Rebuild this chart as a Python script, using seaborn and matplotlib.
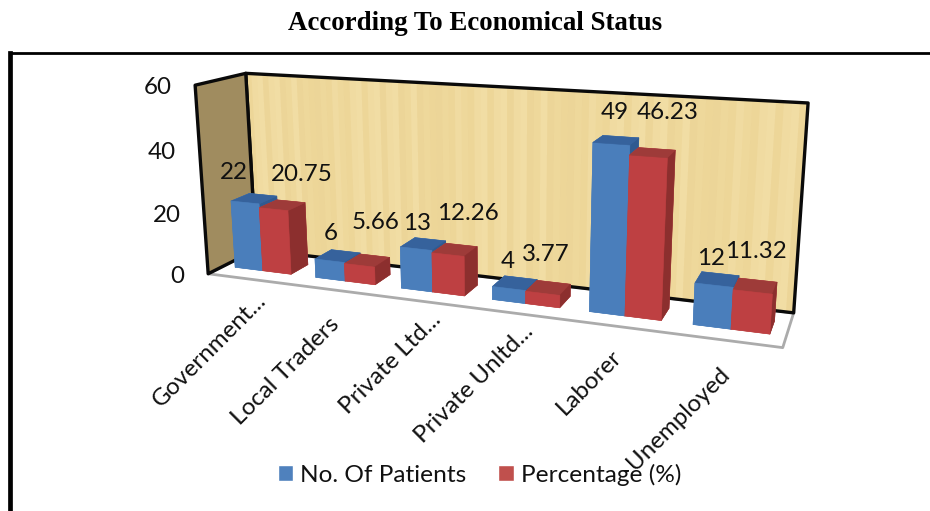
import numpy as np, matplotlib
matplotlib.use('Agg')
import matplotlib.pyplot as plt
import seaborn as sns
from matplotlib.colors import to_rgba
from matplotlib.patches import Patch
from mpl_toolkits.mplot3d import proj3d
from mpl_toolkits.mplot3d.art3d import Poly3DCollection

categories = ["Government...", "Local Traders", "Private Ltd...", "Private Unltd...", "Laborer", "Unemployed"]
patients = [22, 6, 13, 4, 49, 12]
percent = [20.75, 5.66, 12.26, 3.77, 46.23, 11.32]
z_ticks = [0, 20, 40, 60]
series_names = ["No. Of Patients", "Percentage (%)"]
title = "According To Economical Status"

# label placement, pixels away from each anchor
blue_nudge = [(-9, 31), (3, 29), (3, 26), (0, 28), (5, 32), (-2, 28)]
red_nudge = [(31, 36), (18, 44), (22, 42), (5, 40), (20, 45), (4, 42)]
cat_nudge = [(15, -18), (5, -32), (17, -16), (15, -15), (2, -28), (1, -31)]

sns.set_theme(style='white')
plt.rcParams['font.family'] = ['Lato', 'DejaVu Sans']
W, H = 930, 511
TXT = '#111111'
FS = 17.4
CLEAR = (0, 0, 0, 0)
palette = {
    'blue': ['#4A7EBB', '#36629C', '#4A7EBB', '#4A7EBB', '#4A7EBB', '#2F5A90'],
    'red':  ['#BE4B48', '#9E3B39', '#BE4042', '#BE4042', '#BE4042', '#8C2F2E'],
}
fig = plt.figure(figsize=(W / 100, H / 100), dpi=100, facecolor='white')

# page frame: left and top rule only
frame = fig.add_axes([10.3 / W, 0, 1 - 10.3 / W, 1 - 53.2 / H])
frame.set_xticks([]); frame.set_yticks([])
sns.despine(ax=frame, top=False, right=True, bottom=True)
frame.spines['left'].set(linewidth=3.4, color='black')
frame.spines['top'].set(linewidth=2.0, color='black')

S = 625.151
ax = fig.add_axes([162.739 / W, -4.695 / H, S / W, S / H], projection='3d', computed_zorder=False)
ax.patch.set_alpha(0)
nx = len(categories)
ax.set_xlim(0, nx); ax.set_ylim(0, 1); ax.set_zlim(0, 60)
ax.view_init(elev=14.18, azim=-68.96, roll=0.252)
ax.set_proj_type('persp', focal_length=0.3249)
ax.set_box_aspect((6, 0.9387, 2.0373))
ax.set_axis_off()

def wall(verts, fc, ec, lw, z):
    poly = Poly3DCollection([verts], facecolors=[to_rgba(fc)], edgecolors=[to_rgba(ec)], linewidths=lw, zorder=z)
    ax.add_collection3d(poly)
    poly.set_clip_on(False)

wall([(0, 0, 0), (nx, 0, 0), (nx, 1, 0), (0, 1, 0)], 'white', '#ABABAB', 2.0, 0)
wall([(0, 1, 0), (nx, 1, 0), (nx, 1, 60), (0, 1, 60)], '#F0DA9E', CLEAR, 0, 1)
# faint woven look on the back wall
weave = ['#E2C582', '#F8EBC0', '#E9CF8E', '#F5E4B0', '#DFC27E']
edges = np.linspace(0, nx, 85)
for k in range(84):
    wall([(edges[k], 1, 0), (edges[k + 1], 1, 0), (edges[k + 1], 1, 60), (edges[k], 1, 60)],
         to_rgba(weave[(k * 3 + k // 4) % 5], 0.18), CLEAR, 0, 1)
wall([(0, 1, 0), (nx, 1, 0), (nx, 1, 60), (0, 1, 60)], CLEAR, '#0A0A0A', 2.4, 1)
wall([(0, 0, 0), (0, 1, 0), (0, 1, 60), (0, 0, 60)], '#A08C5F', '#0A0A0A', 2.4, 2)

bw, start, y0, dy = 0.35, 0.16, 0.3, 0.38
z = 3
for i in range(nx):
    for j, (vals, key) in enumerate(((patients, 'blue'), (percent, 'red'))):
        c = ax.bar3d(i + start + j * bw, y0, 0, bw, dy, vals[i], color=palette[key],
                     edgecolor=palette[key], linewidth=0.4, shade=False, zorder=z)
        c.set_clip_on(False)
        z += 1

M = ax.get_proj()
def label(x, y, zv, s, nudge=(0, 0), **kw):
    tx, ty, _ = proj3d.proj_transform(x, y, zv, M)
    return ax.annotate(s, xy=(tx, ty), xycoords='data', xytext=nudge, textcoords='offset pixels',
                       fontsize=FS, color=TXT, annotation_clip=False, zorder=50, **kw)

for i in range(nx):
    label(i + start + bw / 2, 0.25, patients[i], str(patients[i]), blue_nudge[i], ha='center', va='center')
    label(i + start + 1.5 * bw, 0.25, percent[i], str(percent[i]), red_nudge[i], ha='center', va='center')

for i, name in enumerate(categories):
    label(i + 0.5, 0, 0, name, cat_nudge[i], rotation=45, ha='right', va='center', rotation_mode='anchor')

for t in z_ticks:
    label(0, 0, t, str(t), (-23, -3), ha='right', va='center')

fig.text(475 / W, 1 - 23 / H, title, family='Liberation Serif', weight='bold', fontsize=19.4,
         color='black', ha='center', va='center')

handles = [Patch(facecolor='#4F81BD', label=series_names[0]), Patch(facecolor='#C0504D', label=series_names[1])]
fig.legend(handles=handles, loc='center', bbox_to_anchor=(479.5 / W, 1 - 475 / H), ncol=2, frameon=False,
           fontsize=17.6, handlelength=0.63, handleheight=0.63, handletextpad=0.29, columnspacing=1.31,
           labelcolor=TXT)
fig.savefig('out.png', dpi=100)
